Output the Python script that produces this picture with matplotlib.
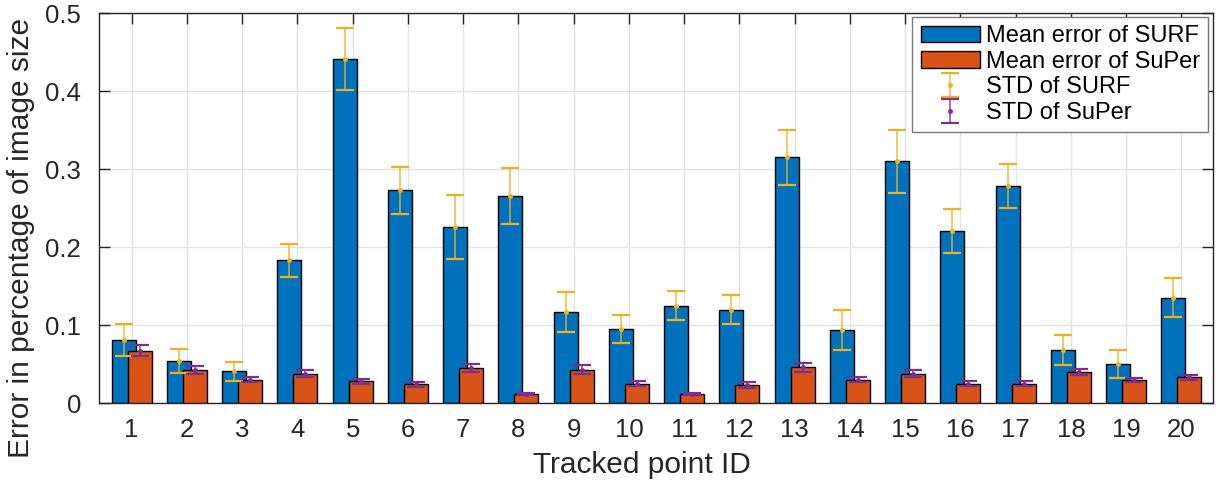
import matplotlib
matplotlib.use("Agg")
import matplotlib.pyplot as plt
from matplotlib.ticker import FormatStrFormatter
import numpy as np

plt.rcParams['font.family'] = ['Liberation Sans', 'DejaVu Sans']

point_ids = np.arange(1, 21)
surf_mean = [0.081, 0.054, 0.041, 0.183, 0.441, 0.273, 0.226, 0.266, 0.117, 0.095,
             0.125, 0.120, 0.315, 0.094, 0.310, 0.221, 0.278, 0.068, 0.050, 0.135]
surf_std = [0.020, 0.015, 0.012, 0.021, 0.040, 0.030, 0.041, 0.036, 0.026, 0.018,
            0.019, 0.019, 0.035, 0.026, 0.040, 0.028, 0.028, 0.019, 0.018, 0.025]
super_mean = [0.067, 0.043, 0.030, 0.038, 0.028, 0.024, 0.045, 0.012, 0.043, 0.025,
              0.012, 0.023, 0.046, 0.030, 0.038, 0.025, 0.025, 0.040, 0.030, 0.033]
super_std = [0.007, 0.005, 0.003, 0.005, 0.003, 0.003, 0.0055, 0.0012, 0.006, 0.0036,
             0.0013, 0.0035, 0.0058, 0.0034, 0.0045, 0.0032, 0.0034, 0.0036, 0.0028, 0.0028]

blue = '#0072BD'
orange = '#D95319'
yellow = '#EDB120'
purple = '#7E2F8E'
off = 0.145
w = 0.434

fig = plt.figure(figsize=(12.22, 4.84), dpi=100)
ax = fig.add_axes([0.081, 0.167, 0.9116, 0.806])

ax.bar(point_ids - off, surf_mean, width=w, color=blue, edgecolor='black', linewidth=1.0,
       label='Mean error of SURF', zorder=2)
ax.bar(point_ids + off, super_mean, width=w, color=orange, edgecolor='black', linewidth=1.0,
       label='Mean error of SuPer', zorder=3)

eb1 = ax.errorbar(point_ids - off, surf_mean, yerr=surf_std, fmt='.', color=yellow,
                  markersize=5, capsize=6.5, elinewidth=1.3, capthick=1.6,
                  label='STD of SURF', zorder=4)
eb2 = ax.errorbar(point_ids + off, super_mean, yerr=super_std, fmt='.', color=purple,
                  markersize=5, capsize=6.5, elinewidth=1.3, capthick=1.6,
                  label='STD of SuPer', zorder=4)
for eb in (eb1, eb2):
    eb[2][0].set_alpha(0.75)

ax.set_xlim(0.41, 20.57)
ax.set_ylim(0, 0.5)
ax.set_xticks(point_ids)
ax.set_yticks(np.arange(0, 0.51, 0.1))
ax.yaxis.set_major_formatter(FormatStrFormatter('%g'))
ax.grid(True, color='#E3E3E3', linewidth=1.0, zorder=0)
ax.set_axisbelow(True)
ax.tick_params(direction='in', length=8, width=1.0, top=True, right=True,
               labelsize=18.5, colors='#262626')
ax.tick_params(axis='x', pad=11)
ax.tick_params(axis='y', pad=13)
for s in ax.spines.values():
    s.set_color('#262626')
    s.set_linewidth(1.0)

ax.set_xlabel('Tracked point ID', fontsize=21.5, color='#262626')
ax.set_ylabel('Error in percentage of image size', fontsize=21.5, color='#262626')
ax.xaxis.set_label_coords(0.487, -0.122)
ax.yaxis.set_label_coords(-0.057, 0.423)

leg = ax.legend(loc='upper right', bbox_to_anchor=(0.9955, 0.9897), borderaxespad=0,
                fontsize=17, fancybox=False, edgecolor='#7A7A7A', framealpha=1,
                handlelength=2.5, handletextpad=0.25, labelspacing=0.15, borderpad=0.35)
leg.get_frame().set_linewidth(1.0)

plt.savefig('out.png', dpi=100)
